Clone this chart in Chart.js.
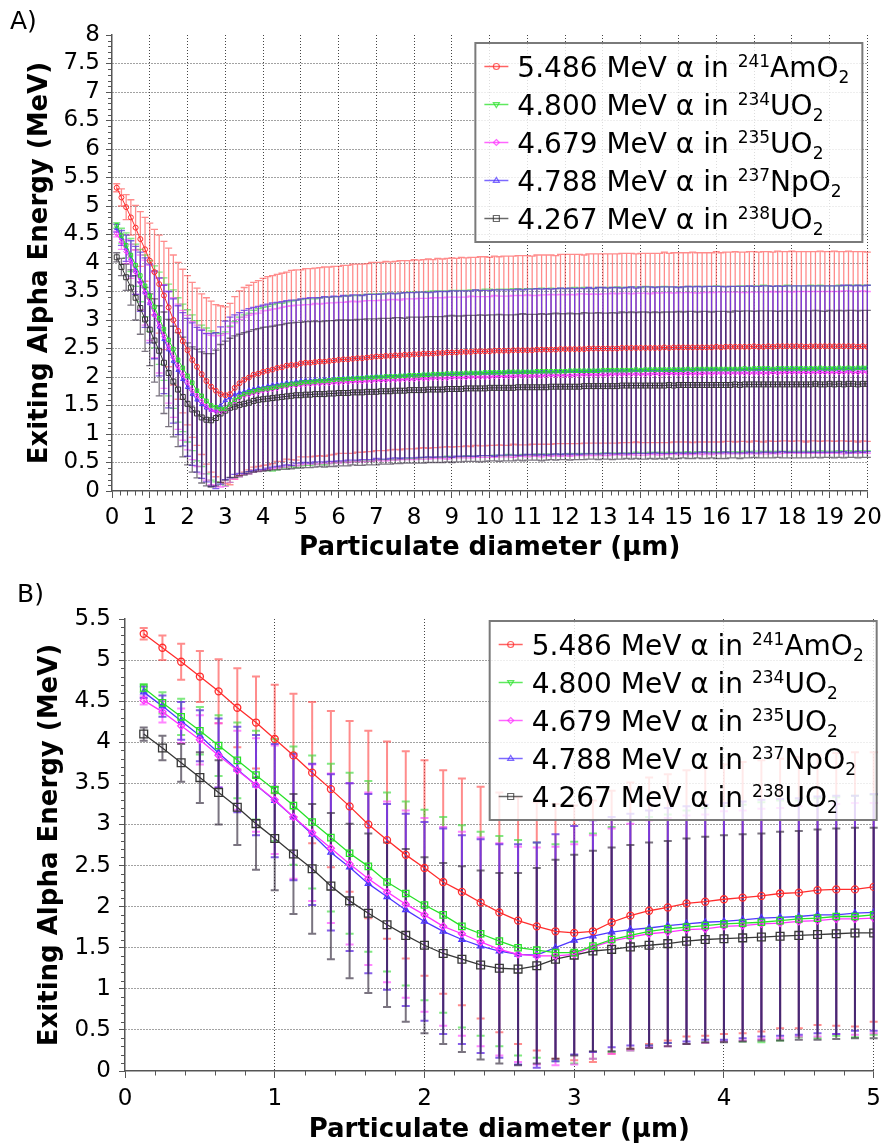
<!DOCTYPE html>
<html>
<head>
<meta charset="utf-8">
<title>Exiting alpha energy vs particulate diameter</title>
<script src="https://cdn.jsdelivr.net/npm/chart.js@4.4.0/dist/chart.umd.min.js"></script>
<style>
html, body { margin: 0; padding: 0; background: #fff; overflow: hidden; }
#wrap { position: relative; width: 888px; height: 1143px; overflow: hidden; }
#chartA { position: absolute; left: 0; top: 0; }
#chartB { position: absolute; left: 0; top: 565px; }
</style>
</head>
<body>
<div id="wrap">
<canvas id="chartA" width="888" height="565"></canvas>
<canvas id="chartB" width="888" height="590"></canvas>
</div>

<script>
// particulate diameters are sampled every 0.125 um, 160 points up to 20 um
var diameterStep = 0.125;
var pointCount = 160;

// legend text parts
var energies = ['5.486', '4.800', '4.679', '4.788', '4.267'];
var massNumbers = ['241', '234', '235', '237', '238'];
var compounds = ['AmO', 'UO', 'UO', 'NpO', 'UO'];

// mean exiting energy (MeV) per diameter
var amMean = [5.32,5.15,4.98,4.80,4.62,4.42,4.24,4.04,3.84,3.63,3.43,3.22,3.00,2.81,2.63,2.47,2.30,2.18,2.05,1.93,1.83,1.76,1.70,1.68,1.70,1.81,1.89,1.95,1.99,2.04,2.06,2.09,2.11,2.13,2.16,2.17,2.20,2.21,2.21,2.24,
2.25,2.25,2.26,2.27,2.27,2.28,2.29,2.30, 2.31,2.31,2.32,2.33,2.33,2.34,2.35,2.36, 2.36,2.37,2.37,2.38,2.38,2.39,2.39,2.40,
2.40,2.41,2.41,2.41,2.42,2.42,2.43,2.43, 2.43,2.44,2.44,2.44,2.45,2.45,2.45,2.45, 2.46,2.46,2.46,2.46,2.47,2.47,2.47,2.47,
2.47,2.48,2.48,2.48,2.48,2.48,2.49,2.49, 2.49,2.49,2.49,2.49,2.50,2.50,2.50,2.50, 2.50,2.50,2.50,2.51,2.51,2.51,2.51,2.51,
2.51,2.51,2.51,2.51,2.52,2.51,2.52,2.52, 2.52,2.52,2.52,2.52,2.52,2.52,2.52,2.53, 2.52,2.53,2.53,2.53,2.53,2.53,2.53,2.54,
2.53,2.53,2.54,2.53,2.54,2.54,2.54,2.54, 2.54,2.54,2.53,2.54,2.54,2.54,2.54,2.54, 2.54,2.54,2.54,2.54,2.54,2.53,2.54,2.53];

var u234Mean = [4.66,4.48,4.31,4.14,3.96,3.78,3.60,3.42,3.23,3.03,2.84,2.65,2.49,2.30,2.16,2.02,1.90,1.76,1.67,1.58,1.50,1.47,1.44,1.44,1.52,1.60,1.65,1.70,1.73,1.75,1.77,1.79,1.80,1.81,1.83,1.85,1.86,1.88,1.88,1.90,
1.91,1.91,1.92,1.93,1.93,1.94,1.95,1.96, 1.96,1.97,1.97,1.98,1.98,1.99,1.99,2.00, 2.00,2.01,2.01,2.01,2.02,2.02,2.03,2.03,
2.03,2.04,2.04,2.05,2.05,2.05,2.06,2.06, 2.06,2.06,2.07,2.07,2.07,2.07,2.08,2.08, 2.08,2.08,2.08,2.09,2.09,2.09,2.09,2.09,
2.09,2.10,2.10,2.10,2.10,2.10,2.10,2.10, 2.11,2.11,2.11,2.11,2.11,2.11,2.11,2.12, 2.12,2.12,2.12,2.12,2.12,2.12,2.13,2.12,
2.13,2.13,2.13,2.13,2.13,2.13,2.13,2.13, 2.13,2.14,2.13,2.14,2.14,2.14,2.14,2.14, 2.14,2.14,2.14,2.14,2.14,2.15,2.14,2.15,
2.15,2.15,2.15,2.14,2.15,2.15,2.15,2.15, 2.15,2.15,2.15,2.15,2.15,2.16,2.15,2.15, 2.15,2.16,2.15,2.16,2.15,2.16,2.16,2.16];

var u235Mean = [4.51,4.37,4.20,4.03,3.84,3.66,3.48,3.30,3.09,2.90,2.71,2.52,2.34,2.18,2.03,1.90,1.76,1.67,1.57,1.48,1.42,1.40,1.40,1.42,1.51,1.58,1.63,1.67,1.69,1.72,1.73,1.76,1.77,1.79,1.80,1.82,1.83,1.85,1.85,1.86,
1.87,1.87,1.88,1.88,1.89,1.89,1.90,1.90, 1.91,1.91,1.92,1.92,1.92,1.93,1.93,1.94, 1.94,1.94,1.95,1.95,1.95,1.96,1.96,1.96,
1.97,1.97,1.97,1.98,1.98,1.98,1.98,1.99, 1.99,1.99,1.99,2.00,2.00,2.00,2.00,2.00, 2.01,2.01,2.01,2.01,2.01,2.02,2.02,2.02,
2.02,2.02,2.02,2.03,2.03,2.03,2.03,2.03, 2.03,2.03,2.04,2.04,2.04,2.04,2.04,2.04, 2.04,2.05,2.05,2.05,2.05,2.05,2.05,2.05,
2.05,2.05,2.06,2.05,2.06,2.06,2.06,2.06, 2.06,2.06,2.06,2.06,2.06,2.07,2.06,2.07, 2.07,2.07,2.07,2.07,2.07,2.07,2.07,2.07,
2.07,2.07,2.07,2.08,2.07,2.08,2.08,2.08, 2.08,2.08,2.08,2.08,2.08,2.08,2.08,2.08, 2.08,2.08,2.08,2.09,2.08,2.08,2.09,2.08];

var npMean = [4.61,4.44,4.26,4.08,3.87,3.67,3.48,3.29,3.09,2.88,2.66,2.48,2.28,2.12,1.96,1.82,1.70,1.60,1.52,1.46,1.42,1.41,1.50,1.59,1.64,1.69,1.72,1.74,1.77,1.79,1.81,1.82,1.84,1.86,1.87,1.88,1.90,1.90,1.92,1.93,
1.94,1.94,1.95,1.95,1.96,1.96,1.97,1.97, 1.98,1.98,1.99,1.99,1.99,2.00,2.00,2.01, 2.01,2.01,2.02,2.02,2.02,2.03,2.03,2.03,
2.04,2.04,2.04,2.04,2.05,2.05,2.05,2.05, 2.06,2.06,2.06,2.06,2.07,2.07,2.07,2.07, 2.07,2.08,2.08,2.08,2.08,2.08,2.08,2.09,
2.09,2.09,2.09,2.09,2.09,2.10,2.10,2.10, 2.10,2.10,2.10,2.10,2.11,2.10,2.11,2.11, 2.11,2.11,2.11,2.11,2.11,2.12,2.11,2.12,
2.12,2.12,2.12,2.12,2.12,2.12,2.12,2.12, 2.12,2.13,2.12,2.13,2.13,2.13,2.13,2.13, 2.13,2.13,2.13,2.13,2.13,2.13,2.14,2.13,
2.13,2.14,2.14,2.13,2.14,2.14,2.14,2.14, 2.14,2.14,2.14,2.14,2.14,2.14,2.14,2.14, 2.14,2.14,2.15,2.14,2.14,2.15,2.14,2.15];

var u238Mean = [4.10,3.93,3.75,3.57,3.39,3.21,3.01,2.83,2.64,2.46,2.25,2.07,1.92,1.78,1.65,1.53,1.43,1.36,1.29,1.25,1.24,1.28,1.36,1.41,1.46,1.48,1.51,1.53,1.55,1.58,1.60,1.61,1.62,1.63,1.64,1.65,1.66,1.67,1.68,1.68,
1.69,1.69,1.70,1.70,1.70,1.71,1.71,1.72, 1.72,1.72,1.73,1.73,1.73,1.74,1.74,1.74, 1.75,1.75,1.75,1.76,1.76,1.76,1.77,1.77,
1.77,1.77,1.78,1.78,1.78,1.78,1.79,1.79, 1.79,1.79,1.80,1.80,1.80,1.80,1.80,1.81, 1.81,1.81,1.81,1.81,1.81,1.82,1.82,1.82,
1.82,1.82,1.82,1.82,1.83,1.83,1.83,1.83, 1.83,1.83,1.83,1.84,1.84,1.84,1.84,1.84, 1.84,1.84,1.84,1.85,1.85,1.85,1.85,1.85,
1.85,1.85,1.85,1.85,1.85,1.86,1.85,1.86, 1.86,1.86,1.86,1.86,1.86,1.86,1.86,1.86, 1.86,1.86,1.86,1.87,1.86,1.87,1.87,1.87,
1.87,1.87,1.87,1.87,1.87,1.87,1.87,1.87, 1.87,1.87,1.87,1.87,1.88,1.87,1.87,1.88, 1.87,1.88,1.87,1.88,1.88,1.87,1.88,1.88];

// standard deviation (MeV), drawn as symmetric error bars
var amSd = [0.07,0.15,0.22,0.31,0.39,0.48,0.56,0.66,0.75,0.86,0.95,1.04,1.14,1.20,1.26,1.31,1.36,1.38,1.41,1.46,1.50,1.51,1.55,1.55,1.59,1.60,1.62,1.62,1.62,1.62,1.63,1.64,1.65,1.65,1.64,1.65,1.64,1.66,1.67,1.64,
1.65,1.65,1.65,1.65,1.66,1.65,1.65,1.64, 1.65,1.65,1.66,1.65,1.65,1.65,1.66,1.65, 1.65,1.66,1.65,1.65,1.66,1.65,1.65,1.66,
1.65,1.65,1.66,1.65,1.66,1.65,1.65,1.66, 1.65,1.66,1.65,1.66,1.65,1.66,1.66,1.65, 1.66,1.65,1.66,1.66,1.65,1.66,1.66,1.66,
1.65,1.66,1.66,1.66,1.66,1.65,1.66,1.66, 1.66,1.66,1.66,1.65,1.66,1.66,1.66,1.66, 1.66,1.66,1.66,1.66,1.66,1.66,1.65,1.66,
1.66,1.66,1.66,1.66,1.67,1.66,1.66,1.66, 1.66,1.66,1.67,1.66,1.66,1.66,1.66,1.67, 1.66,1.66,1.66,1.67,1.66,1.66,1.67,1.66,
1.66,1.67,1.66,1.66,1.67,1.66,1.66,1.67, 1.66,1.66,1.67,1.66,1.66,1.67,1.66,1.66, 1.67,1.66,1.66,1.67,1.66,1.67,1.66,1.66];

var u234Sd = [0.05,0.13,0.22,0.29,0.37,0.46,0.54,0.62,0.72,0.81,0.90,0.98,1.04,1.09,1.12,1.16,1.19,1.23,1.24,1.28,1.31,1.31,1.32,1.35,1.37,1.37,1.40,1.39,1.39,1.42,1.43,1.43,1.44,1.46,1.46,1.44,1.46,1.45,1.47,1.46,
1.46,1.46,1.45,1.46,1.47,1.46,1.46,1.45, 1.46,1.46,1.46,1.45,1.46,1.46,1.47,1.46, 1.45,1.46,1.46,1.46,1.45,1.46,1.46,1.46,
1.46,1.45,1.46,1.46,1.46,1.46,1.45,1.46, 1.46,1.46,1.45,1.46,1.46,1.45,1.46,1.46, 1.45,1.46,1.46,1.45,1.46,1.46,1.45,1.46,
1.46,1.45,1.46,1.45,1.46,1.45,1.46,1.45, 1.45,1.46,1.45,1.46,1.45,1.45,1.46,1.45, 1.45,1.45,1.46,1.45,1.45,1.46,1.45,1.45,
1.46,1.45,1.45,1.45,1.46,1.45,1.45,1.45, 1.45,1.45,1.46,1.45,1.45,1.45,1.45,1.46, 1.45,1.45,1.45,1.45,1.46,1.45,1.45,1.45,
1.45,1.46,1.45,1.45,1.45,1.45,1.46,1.45, 1.45,1.45,1.45,1.46,1.45,1.45,1.45,1.45, 1.45,1.45,1.45,1.45,1.46,1.45,1.45,1.45];

var u235Sd = [0.05,0.13,0.21,0.30,0.39,0.48,0.57,0.66,0.75,0.83,0.91,0.98,1.05,1.10,1.14,1.18,1.21,1.24,1.27,1.29,1.31,1.32,1.33,1.34,1.36,1.37,1.38,1.38,1.39,1.39,1.39,1.40,1.40,1.40,1.40,1.40,1.41,1.40,1.41,1.40,
1.40,1.40,1.41,1.40,1.40,1.41,1.40,1.41, 1.40,1.41,1.41,1.40,1.41,1.41,1.41,1.40, 1.41,1.41,1.41,1.41,1.40,1.41,1.41,1.41,
1.41,1.41,1.41,1.41,1.41,1.41,1.42,1.41, 1.41,1.41,1.41,1.42,1.41,1.41,1.41,1.41, 1.42,1.41,1.41,1.41,1.42,1.41,1.41,1.42,
1.41,1.41,1.42,1.41,1.42,1.41,1.42,1.41, 1.42,1.41,1.42,1.42,1.41,1.42,1.41,1.42, 1.42,1.42,1.41,1.42,1.42,1.41,1.42,1.42,
1.42,1.41,1.42,1.42,1.42,1.42,1.41,1.42, 1.42,1.42,1.42,1.41,1.42,1.42,1.42,1.42, 1.42,1.42,1.42,1.42,1.42,1.41,1.42,1.42,
1.42,1.42,1.42,1.42,1.42,1.42,1.42,1.41, 1.42,1.42,1.42,1.42,1.42,1.42,1.42,1.42, 1.42,1.42,1.43,1.42,1.42,1.42,1.42,1.42];

var npSd = [0.07,0.13,0.23,0.31,0.42,0.52,0.61,0.69,0.77,0.86,0.95,1.02,1.09,1.13,1.17,1.21,1.25,1.27,1.30,1.30,1.34,1.37,1.38,1.39,1.41,1.40,1.41,1.43,1.43,1.43,1.43,1.44,1.44,1.44,1.44,1.44,1.44,1.45,1.43,1.44,
1.44,1.45,1.44,1.44,1.45,1.44,1.45,1.44, 1.45,1.44,1.45,1.45,1.44,1.45,1.45,1.44, 1.45,1.45,1.45,1.44,1.45,1.45,1.45,1.45,
1.45,1.45,1.44,1.45,1.45,1.45,1.45,1.46, 1.45,1.45,1.45,1.45,1.46,1.45,1.45,1.45, 1.46,1.45,1.45,1.45,1.45,1.46,1.45,1.45,
1.45,1.46,1.45,1.46,1.45,1.45,1.46,1.45, 1.46,1.45,1.46,1.45,1.46,1.45,1.46,1.46, 1.45,1.46,1.46,1.45,1.46,1.46,1.45,1.46,
1.46,1.46,1.45,1.46,1.46,1.46,1.46,1.45, 1.46,1.46,1.46,1.46,1.45,1.46,1.46,1.46, 1.46,1.45,1.46,1.46,1.46,1.46,1.46,1.46,
1.46,1.46,1.46,1.46,1.46,1.45,1.46,1.46, 1.46,1.46,1.46,1.46,1.46,1.46,1.46,1.46, 1.46,1.46,1.46,1.47,1.46,1.46,1.46,1.46];

var u238Sd = [0.08,0.15,0.23,0.31,0.39,0.46,0.56,0.63,0.73,0.79,0.89,0.94,0.97,1.00,1.05,1.07,1.10,1.13,1.15,1.16,1.17,1.19,1.21,1.22,1.22,1.24,1.24,1.25,1.25,1.25,1.25,1.26,1.26,1.26,1.27,1.27,1.28,1.28,1.28,1.28,
1.28,1.28,1.28,1.27,1.28,1.28,1.28,1.28, 1.28,1.28,1.27,1.28,1.28,1.28,1.28,1.28, 1.28,1.28,1.28,1.28,1.28,1.27,1.28,1.28,
1.28,1.28,1.28,1.28,1.28,1.28,1.28,1.29, 1.28,1.28,1.28,1.28,1.28,1.29,1.28,1.28, 1.28,1.29,1.28,1.28,1.28,1.28,1.29,1.28,
1.28,1.28,1.29,1.28,1.28,1.29,1.28,1.28, 1.29,1.28,1.28,1.29,1.28,1.28,1.29,1.28, 1.28,1.29,1.28,1.29,1.28,1.29,1.28,1.29,
1.29,1.28,1.29,1.28,1.29,1.28,1.29,1.29, 1.28,1.29,1.29,1.28,1.29,1.29,1.28,1.29, 1.29,1.29,1.28,1.29,1.29,1.29,1.29,1.28,
1.29,1.29,1.29,1.29,1.28,1.29,1.29,1.29, 1.29,1.29,1.29,1.29,1.29,1.29,1.28,1.29, 1.29,1.29,1.29,1.29,1.29,1.29,1.29,1.29];

var meanSeries = [amMean, u234Mean, u235Mean, npMean, u238Mean];
var sdSeries = [amSd, u234Sd, u235Sd, npSd, u238Sd];

// drawing styles for each series
var seriesStyle = [
  {line: 'rgb(255,45,45)',  bar: 'rgba(255,70,70,0.62)',  point: 'circle',   legendPoint: 'circle',       rA: 2.5, rB: 3.5},
  {line: 'rgb(40,225,40)',  bar: 'rgba(50,220,50,0.62)',  point: 'rect',     legendPoint: 'triangleDown', rA: 2.5, rB: 4.5},
  {line: 'rgb(255,50,255)', bar: 'rgba(255,60,255,0.62)', point: 'rectRot',  legendPoint: 'diamond',      rA: 2.5, rB: 3.5},
  {line: 'rgb(80,55,255)',  bar: 'rgba(95,40,225,0.75)',  point: 'triangle', legendPoint: 'triangle',     rA: 2.5, rB: 3.5},
  {line: 'rgb(55,55,55)',   bar: 'rgba(40,30,50,0.62)',   point: 'rect',     legendPoint: 'square',       rA: 3.5, rB: 5.5}
];

Chart.defaults.font.family = "'DejaVu Sans', Verdana, sans-serif";
Chart.defaults.color = '#000';

// vertical error bars: mean +- sd, drawn under the lines
var errorBars = {
  id: 'errorBars',
  beforeDatasetsDraw: function(chart, args, o) {
    var ctx = chart.ctx, ys = chart.scales.y;
    ctx.save();
    ctx.lineWidth = o.width;
    chart.data.datasets.forEach(function(ds, di) {
      var meta = chart.getDatasetMeta(di);
      ctx.strokeStyle = ds.barColor;
      ctx.beginPath();
      ds.data.forEach(function(pt, i) {
        var px = meta.data[i].x;
        var top = ys.getPixelForValue(pt.y + ds.sd[i]);
        var bot = ys.getPixelForValue(pt.y - ds.sd[i]);
        ctx.moveTo(px, top); ctx.lineTo(px, bot);
        ctx.moveTo(px - o.cap, top); ctx.lineTo(px + o.cap, top);
        ctx.moveTo(px - o.cap, bot); ctx.lineTo(px + o.cap, bot);
      });
      ctx.stroke();
    });
    ctx.restore();
  }
};

// minor tick marks on both axes
var minorTicks = {
  id: 'minorTicks',
  afterDraw: function(chart, args, o) {
    var ctx = chart.ctx, area = chart.chartArea;
    var xs = chart.scales.x, ys = chart.scales.y;
    ctx.save();
    ctx.strokeStyle = '#555';
    ctx.lineWidth = 1;
    ctx.beginPath();
    for (var k = 1; k * o.xStep <= xs.max + 1e-9; k++) {
      if (k % 5 === 0) continue;
      var px = Math.round(xs.getPixelForValue(k * o.xStep)) + 0.5;
      ctx.moveTo(px, area.bottom); ctx.lineTo(px, area.bottom + 4.5);
    }
    for (var j = 1; j * o.yStep <= ys.max + 1e-9; j++) {
      if (j % 5 === 0) continue;
      var py = Math.round(ys.getPixelForValue(j * o.yStep)) + 0.5;
      ctx.moveTo(area.left, py); ctx.lineTo(area.left - 4, py);
    }
    ctx.stroke();
    ctx.restore();
  }
};

function drawMarker(ctx, style, x, y, r) {
  ctx.beginPath();
  if (style === 'circle') {
    ctx.arc(x, y, r, 0, Math.PI * 2);
  } else if (style === 'triangleDown') {
    ctx.moveTo(x - r, y - r * 0.6); ctx.lineTo(x + r, y - r * 0.6); ctx.lineTo(x, y + r); ctx.closePath();
  } else if (style === 'triangle') {
    ctx.moveTo(x - r, y + r * 0.6); ctx.lineTo(x + r, y + r * 0.6); ctx.lineTo(x, y - r); ctx.closePath();
  } else if (style === 'diamond') {
    ctx.moveTo(x, y - r); ctx.lineTo(x + r, y); ctx.lineTo(x, y + r); ctx.lineTo(x - r, y); ctx.closePath();
  } else {
    ctx.rect(x - r, y - r, 2 * r, 2 * r);
  }
  ctx.stroke();
}

// legend with superscript mass numbers and subscript 2
var isoLegend = {
  id: 'isoLegend',
  afterDatasetsDraw: function(chart, args, o) {
    var ctx = chart.ctx, area = chart.chartArea;
    var w = 387, h = 199;
    var left = area.right + o.dx - w, top = area.top + o.dy;
    ctx.save();
    ctx.fillStyle = 'rgba(255,255,255,0.82)';
    ctx.fillRect(left, top, w, h);
    ctx.strokeStyle = '#7a7a7a';
    ctx.lineWidth = 2;
    ctx.strokeRect(left, top, w, h);
    ctx.textBaseline = 'alphabetic';
    ctx.textAlign = 'left';
    for (var i = 0; i < energies.length; i++) {
      var st = seriesStyle[i];
      var cy = top + 23.5 + i * 38;
      ctx.strokeStyle = st.line;
      ctx.globalAlpha = 0.75;
      ctx.lineWidth = 1.5;
      ctx.beginPath();
      ctx.moveTo(left + 9, cy); ctx.lineTo(left + 33, cy);
      ctx.stroke();
      ctx.lineWidth = 1.2;
      drawMarker(ctx, st.legendPoint, left + 21, cy, 3);
      ctx.globalAlpha = 1;
      ctx.fillStyle = '#000';
      var base = cy + 10;
      var x = left + 42;
      var main = energies[i] + ' MeV \u03b1 in ';
      ctx.font = '28px "DejaVu Sans"';
      ctx.fillText(main, x, base);
      x += ctx.measureText(main).width;
      ctx.font = '17px "DejaVu Sans"';
      ctx.fillText(massNumbers[i], x, base - 10);
      x += ctx.measureText(massNumbers[i]).width;
      ctx.font = '28px "DejaVu Sans"';
      ctx.fillText(compounds[i], x, base);
      x += ctx.measureText(compounds[i]).width;
      ctx.font = '17px "DejaVu Sans"';
      ctx.fillText('2', x, base + 6);
    }
    ctx.restore();
  }
};

var panelLabel = {
  id: 'panelLabel',
  afterDraw: function(chart, args, o) {
    var ctx = chart.ctx;
    ctx.save();
    ctx.font = '25px "DejaVu Sans"';
    ctx.fillStyle = '#000';
    ctx.textBaseline = 'alphabetic';
    ctx.fillText(o.text, o.x, o.y);
    ctx.restore();
  }
};

function buildDatasets(n, big) {
  return meanSeries.map(function(mean, s) {
    var st = seriesStyle[s];
    var pts = [];
    for (var i = 0; i < n; i++) pts.push({x: (i + 1) * diameterStep, y: mean[i]});
    return {
      label: energies[s] + ' MeV \u03b1 in ' + massNumbers[s] + compounds[s] + '2',
      data: pts,
      sd: sdSeries[s].slice(0, n),
      barColor: st.bar,
      borderColor: st.line,
      borderWidth: big ? 1.3 : 1,
      pointStyle: st.point,
      pointRadius: big ? st.rB : st.rA,
      pointBorderColor: st.line,
      pointBackgroundColor: 'rgba(0,0,0,0)',
      pointBorderWidth: big ? 1.3 : 1,
      tension: 0,
      fill: false
    };
  });
}

// plain tick text: 8, 7.5, 7 ... (no trailing .0)
function tickText(v) {
  return String(Math.round(v * 10) / 10);
}

function makePanel(id, p) {
  var gridColor = function(c) {
    return (c.tick && (c.tick.value === 0 || c.tick.value === c.scale.max)) ? 'rgba(0,0,0,0)' : '#444';
  };
  var xGridColor = function(c) {
    return (c.tick && c.tick.value === 0) ? 'rgba(0,0,0,0)' : '#444';
  };
  return new Chart(document.getElementById(id), {
    type: 'line',
    data: { datasets: buildDatasets(p.n, p.big) },
    options: {
      responsive: false,
      animation: false,
      devicePixelRatio: 1,
      layout: { padding: { top: p.padTop, right: p.padRight, left: 0, bottom: 0 } },
      scales: {
        x: {
          type: 'linear', min: 0, max: p.xMax,
          afterFit: function(s) { s.height = p.xAxisHeight; },
          ticks: { stepSize: 1, autoSkip: false, maxRotation: 0, color: '#000', font: { size: 23 }, padding: p.xTickPad, callback: tickText },
          grid: { color: xGridColor, tickColor: '#555', tickLength: 7, tickBorderDash: [] },
          border: { color: '#555', width: 1.5, dash: [1, 2] },
          title: { display: true, text: 'Particulate diameter (\u00b5m)', color: '#000',
                   font: { size: 26, weight: 'bold' }, padding: { top: 0, bottom: p.xTitlePad } }
        },
        y: {
          min: 0, max: p.yMax,
          afterFit: function(s) { s.width = p.yAxisWidth; },
          ticks: { stepSize: 0.5, autoSkip: false, color: '#000', font: { size: 23 }, padding: p.yTickPad, callback: tickText },
          grid: { color: gridColor, tickColor: '#555', tickLength: 6, tickBorderDash: [] },
          border: { color: '#555', width: 1.5, dash: [1, 2] },
          title: { display: true, text: 'Exiting Alpha Energy (MeV)', color: '#000',
                   font: { size: 26, weight: 'bold' }, padding: { top: p.yTitlePad, bottom: 0 } }
        }
      },
      plugins: {
        legend: { display: false },
        tooltip: { enabled: false },
        errorBars: { width: p.big ? 2 : 1.3, cap: p.big ? 4 : 3.5 },
        minorTicks: { xStep: 0.2, yStep: 0.1 },
        isoLegend: { dx: p.legendDx, dy: p.legendDy },
        panelLabel: p.label
      }
    },
    plugins: [errorBars, isoLegend, minorTicks, panelLabel]
  });
}

makePanel('chartA', {
  n: pointCount, big: false, xMax: 20, yMax: 8,
  padTop: 35, padRight: 20, xAxisHeight: 74, yAxisWidth: 112,
  xTickPad: 6, yTickPad: 6, xTitlePad: 1.5, yTitlePad: 24.5,
  legendDx: -5, legendDy: 8,
  label: { text: 'A)', x: 10, y: 29 }
});

makePanel('chartB', {
  n: 40, big: true, xMax: 5, yMax: 5.5,
  padTop: 54, padRight: 11, xAxisHeight: 84, yAxisWidth: 125,
  xTickPad: 7, yTickPad: 8, xTitlePad: 9.5, yTitlePad: 34.5,
  legendDx: 3, legendDy: 2,
  label: { text: 'B)', x: 17, y: 37 }
});
</script>
</body>
</html>
